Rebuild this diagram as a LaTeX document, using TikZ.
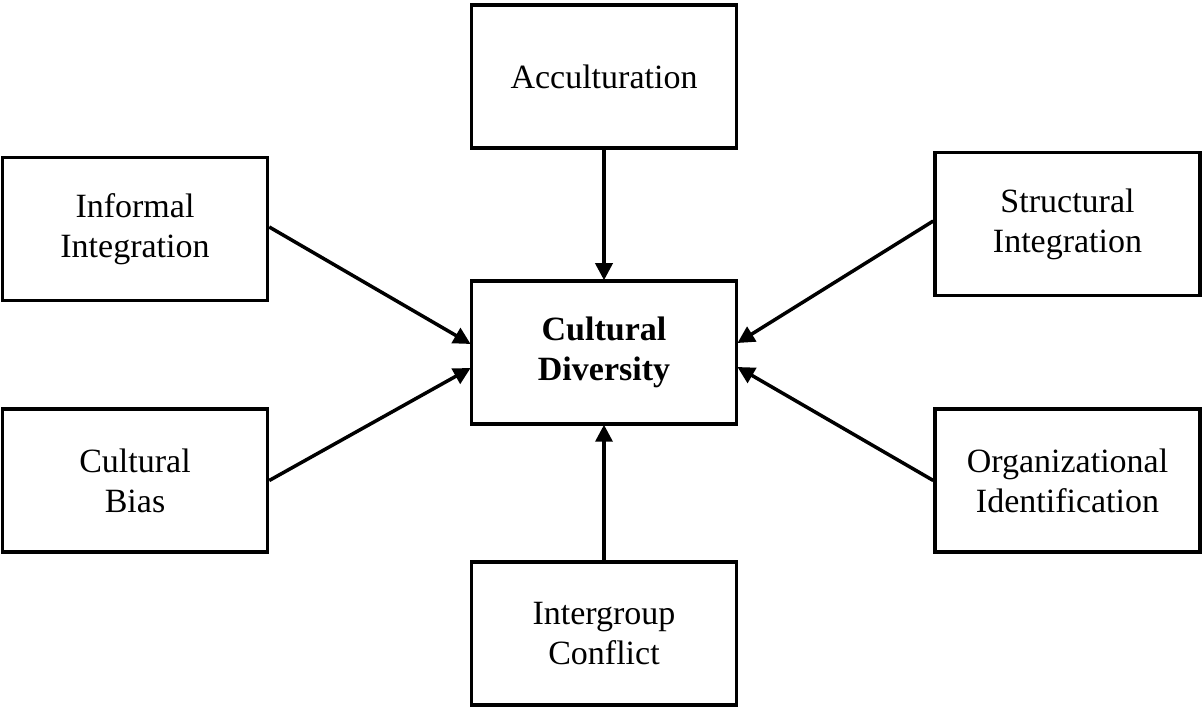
\documentclass[tikz,border=0pt]{standalone}
\usepackage{fontspec}
\setmainfont{Liberation Serif}
\usetikzlibrary{arrows.meta}
\begin{document}
\begin{tikzpicture}[x=1pt,y=1pt,
  box/.style={draw, line width=3.5pt, minimum width=265pt, minimum height=143pt, align=center, inner sep=0pt,
    font=\fontsize{34}{40}\selectfont},
  conn/.style={line width=3.5pt, -{Triangle[length=17pt,width=17pt]}, shorten >=-1pt}]
\useasboundingbox (0,0) rectangle (1204,709);
\node[box] (acc) at (604,632.5) {Acculturation};
\node[box] (inf) at (135,480) {Informal\\Integration};
\node[box] (str) at (1067.5,485) {Structural\\Integration};
\node[box, font=\fontsize{34}{40}\selectfont\bfseries] (cd) at (604,356.5) {Cultural\\Diversity};
\node[box] (bias) at (135,228.5) {Cultural\\Bias};
\node[box] (org) at (1067.5,228.5) {Organizational\\Identification};
\node[box] (ic) at (604,75.5) {Intergroup\\Conflict};
\draw[conn] (acc.south) -- (cd.north);
\draw[conn] (ic.north) -- (cd.south);
\draw[conn] ([yshift=2pt]inf.east) -- ([yshift=9pt]cd.west);
\draw[conn] (bias.east) -- ([yshift=-16pt]cd.west);
\draw[conn] ([yshift=3pt]str.west) -- ([yshift=10pt]cd.east);
\draw[conn] (org.west) -- ([yshift=-15pt]cd.east);
\end{tikzpicture}
\end{document}
